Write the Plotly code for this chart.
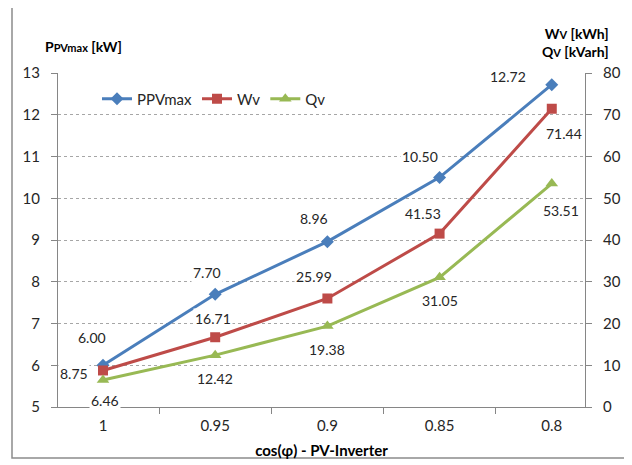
import plotly.graph_objects as go

categories = ["1", "0.95", "0.9", "0.85", "0.8"]
ppvmax = [6.00, 7.70, 8.96, 10.50, 12.72]
wv = [8.75, 16.71, 25.99, 41.53, 71.44]
qv = [6.46, 12.42, 19.38, 31.05, 53.51]
left_ticks = [5, 6, 7, 8, 9, 10, 11, 12, 13]
right_ticks = [0, 10, 20, 30, 40, 50, 60, 70, 80]

BLUE = "#4A7EBB"
RED = "#BE4B48"
GREEN = "#98B954"
FONT = "Lato"
TXT = "#262626"

# page body has an 8px margin: figure sized/offset to compensate
W, H = 624, 457
L, R, T, B = 50, 47, 65, 58
PW = W - L - R
PH = H - T - B

def px(x):  # page x -> paper
    return (x - 8 - L) / PW

def py(y):  # page y -> paper
    return (H - B - (y - 8)) / PH

fig = go.Figure()
fig.add_trace(go.Scatter(x=categories, y=ppvmax, name="PPVmax", mode="lines+markers",
                         line=dict(color=BLUE, width=3),
                         marker=dict(symbol="diamond", size=10, color=BLUE), yaxis="y"))
fig.add_trace(go.Scatter(x=categories, y=wv, name="Wv", mode="lines+markers",
                         line=dict(color=RED, width=3),
                         marker=dict(symbol="square", size=10, color=RED), yaxis="y2"))
fig.add_trace(go.Scatter(x=categories, y=qv, name="Qv", mode="lines+markers",
                         line=dict(color=GREEN, width=3),
                         marker=dict(symbol="triangle-up", size=11, color=GREEN), yaxis="y2"))

# label offsets (style only)
off_p = [(-11, 28), (-8, 22), (-13, 23), (-20, 21), (-44, 8)]
off_w = [(-29, -3), (-2, 19), (-13, 22), (-17, 20), (12, -25)]
off_q = [(2, -20), (0, -23), (0, -23), (0, -23), (9, -27)]

annotations = []
for vals, offs, yref in [(ppvmax, off_p, "y"), (wv, off_w, "y2"), (qv, off_q, "y2")]:
    for i, (v, (dx, dy)) in enumerate(zip(vals, offs)):
        annotations.append(dict(x=i, y=v, xref="x", yref=yref, text=f"{v:.2f}",
                                showarrow=False, xshift=dx, yshift=dy,
                                bgcolor="white", borderpad=1,
                                font=dict(family=FONT, size=14, color=TXT)))

annotations.append(dict(xref="paper", yref="paper", x=px(43), y=py(47), xanchor="left", yanchor="middle",
                        text="<b>P<span style='font-size:11px'>PVmax</span> [kW]</b>", showarrow=False,
                        font=dict(family=FONT, size=14, color="black")))
annotations.append(dict(xref="paper", yref="paper", x=px(611), y=py(42), xanchor="right", yanchor="middle",
                        align="right",
                        text="<b>W<span style='font-size:11px'>V</span> [kWh]<br>Q<span style='font-size:11px'>V</span> [kVarh]</b>",
                        showarrow=False, font=dict(family=FONT, size=14, color="black")))

fig.update_layout(
    width=W, height=H,
    margin=dict(l=L, r=R, t=T, b=B, autoexpand=False),
    paper_bgcolor="white", plot_bgcolor="white",
    font=dict(family=FONT, size=14, color=TXT),
    showlegend=True,
    legend=dict(orientation="h", x=px(97), y=py(99), xanchor="left", yanchor="middle",
                bgcolor="rgba(0,0,0,0)", font=dict(family=FONT, size=15, color=TXT),
                itemwidth=30, tracegroupgap=0),
    xaxis=dict(type="category", showline=True, linecolor="#868686", linewidth=1,
               ticks="outside", tickson="boundaries", ticklen=6, tickcolor="#868686",
               ticklabelstandoff=5, automargin=False,
               showgrid=False, tickfont=dict(family=FONT, size=15, color=TXT),
               title=dict(text="<b>cos(φ) - PV-Inverter</b>", font=dict(family=FONT, size=15, color="black"),
                          standoff=12)),
    yaxis=dict(range=[5, 13], tickvals=left_ticks, showline=True, linecolor="#868686",
               ticks="outside", ticklen=6, tickcolor="#868686", ticklabelstandoff=8,
               automargin=False,
               showgrid=True, gridcolor="#A6A6A6", griddash="dot", gridwidth=1,
               zeroline=False, tickfont=dict(family=FONT, size=15, color=TXT)),
    yaxis2=dict(range=[0, 80], tickvals=right_ticks, overlaying="y", side="right",
                showline=True, linecolor="#868686", ticks="outside", ticklen=6, tickcolor="#868686",
                ticklabelstandoff=8, automargin=False,
                showgrid=False, zeroline=False, tickfont=dict(family=FONT, size=15, color=TXT)),
    annotations=annotations,
    shapes=[dict(type="rect", xref="paper", yref="paper",
                 x0=px(12), x1=px(628), y0=py(458), y1=py(7),
                 line=dict(color="#8C8C8C", width=1.5), layer="below")],
)

fig.write_html("out.html")
